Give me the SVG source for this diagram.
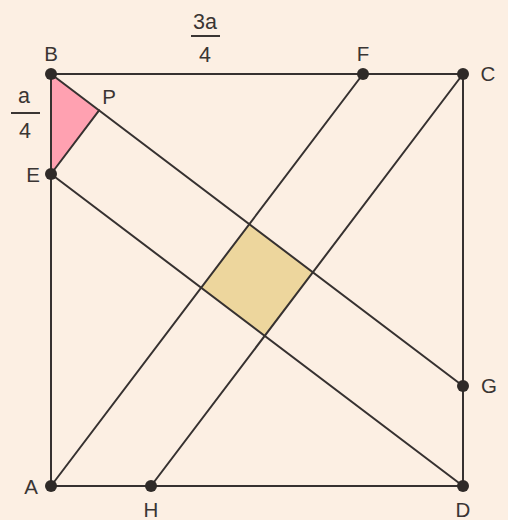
<svg xmlns="http://www.w3.org/2000/svg" width="508" height="520" viewBox="0 0 508 520">
<style>
.ln{stroke:#363130;stroke-width:2;fill:none;stroke-linecap:round}
.dot{fill:#2f2a28}
.bar{stroke:#3a3533;stroke-width:2}
text{font-family:"Liberation Sans",Arial,sans-serif;font-size:20.5px;fill:#3a3533;text-anchor:middle}
.fr{font-size:21.5px}
</style>
<rect width="508" height="520" fill="#fcefe3"/>
<g id="fills">
<polygon points="51,74 99.1,110.4 51,174" fill="#ffa1b1"/>
<polygon points="249.3,224.2 312.8,272.3 264.7,335.8 201.2,287.7" fill="#edd69d"/>
</g>
<g id="connectors">
<rect class="ln" x="51" y="74" width="412" height="412"/>
<line class="ln" x1="51" y1="74" x2="463" y2="386"/>
<line class="ln" x1="51" y1="174" x2="463" y2="486"/>
<line class="ln" x1="51" y1="486" x2="363" y2="74"/>
<line class="ln" x1="151" y1="486" x2="463" y2="74"/>
<line class="ln" x1="51" y1="174" x2="99.1" y2="110.4"/>
</g>
<g id="B"><circle class="dot" cx="51" cy="74" r="6"/><text x="51" y="61">B</text></g>
<g id="F"><circle class="dot" cx="363" cy="74" r="6"/><text x="363" y="61">F</text></g>
<g id="C"><circle class="dot" cx="463" cy="74" r="6"/><text x="488" y="81">C</text></g>
<g id="E"><circle class="dot" cx="51" cy="174" r="6"/><text x="33" y="182">E</text></g>
<g id="G"><circle class="dot" cx="463" cy="386" r="6"/><text x="489" y="393">G</text></g>
<g id="A"><circle class="dot" cx="51" cy="486" r="6"/><text x="31" y="494">A</text></g>
<g id="H"><circle class="dot" cx="151" cy="486" r="6"/><text x="151" y="517">H</text></g>
<g id="D"><circle class="dot" cx="463" cy="486" r="6"/><text x="463" y="517">D</text></g>
<g id="P"><text x="109" y="104">P</text></g>
<g id="frac-3a4">
<text class="fr" x="205" y="29">3a</text>
<line class="bar" x1="191" y1="36" x2="220" y2="36"/>
<text class="fr" x="205" y="62">4</text>
</g>
<g id="frac-a4">
<text class="fr" x="24" y="103">a</text>
<line class="bar" x1="11" y1="113" x2="40" y2="113"/>
<text class="fr" x="25" y="138">4</text>
</g>
</svg>
